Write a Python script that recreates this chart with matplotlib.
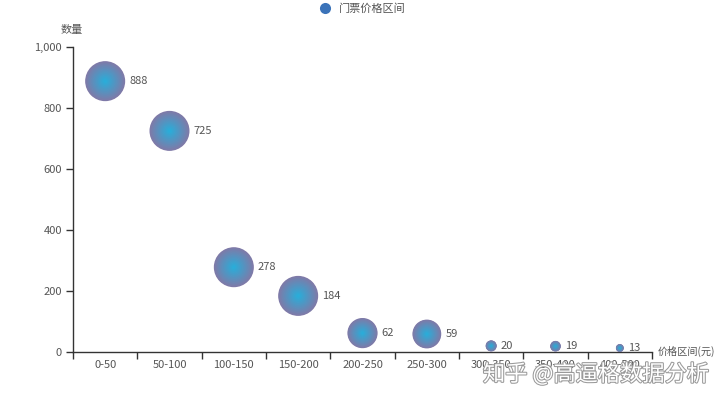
import numpy as np
import matplotlib.pyplot as plt
import matplotlib.patheffects as pe
from matplotlib.lines import Line2D
from matplotlib.ticker import FuncFormatter, FixedLocator

plt.rcParams['font.family'] = ['Noto Sans CJK SC', 'DejaVu Sans']

# data
price_ranges = ['0-50', '50-100', '100-150', '150-200', '200-250',
                '250-300', '300-350', '350-400', '400-500']
counts = [888, 725, 278, 184, 62, 59, 20, 19, 13]
series_name = '门票价格区间'

# colours of the radial gradient
edge_col = np.array([0x80, 0x7a, 0xa8]) / 255
center_col = np.array([0x26, 0xb0, 0xdc]) / 255

fig = plt.figure(figsize=(7.2, 4), dpi=100)
ax = fig.add_axes([73 / 720, 1 - 352 / 400, (652 - 73) / 720, (352 - 47) / 400])

x = np.arange(len(price_ranges))
# bubble diameter in pixels, capped like the original
diam = np.minimum(40, np.array(counts) / 2.2 + 2)

# draw each bubble as stacked circles to fake a radial gradient
steps = 30
for k in range(steps):
    f = 1 - k / steps
    t = k / steps
    col = edge_col * (1 - t) + center_col * t
    ax.scatter(x, counts, s=(diam * f * 0.72) ** 2, color=col, linewidths=0, zorder=3 + k * 0.01)

# value labels to the right of the bubbles
for xi, v, d in zip(x, counts, diam):
    ax.annotate(str(v), (xi, v), xytext=(d * 0.72 / 2 + 3, 0), textcoords='offset points',
                ha='left', va='center', fontsize=8, color='#555555', zorder=5)

ax.set_xlim(-0.5, len(price_ranges) - 0.5)
ax.set_ylim(0, 1000)
ax.set_yticks([0, 200, 400, 600, 800, 1000])
ax.yaxis.set_major_formatter(FuncFormatter(lambda v, p: f'{v:,.0f}'))

# ticks on category boundaries, labels centred
ax.xaxis.set_major_locator(FixedLocator(np.arange(-0.5, len(price_ranges), 1.0)))
ax.set_xticklabels([])
ax.set_xticks(x, minor=True)
ax.set_xticklabels(price_ranges, minor=True)
ax.tick_params(axis='x', which='minor', length=0, pad=6, labelsize=8, labelcolor='#555555')
ax.tick_params(axis='x', which='major', length=5, color='#333333', width=1)
ax.tick_params(axis='y', length=5, color='#333333', width=1, labelsize=8, labelcolor='#555555', pad=3)

for side in ['top', 'right']:
    ax.spines[side].set_visible(False)
for side in ['left', 'bottom']:
    ax.spines[side].set_color('#333333')
    ax.spines[side].set_linewidth(1)

# axis names
fig.text(72 / 720, 1 - 30 / 400, '数量', ha='center', va='center', fontsize=8, color='#555555')
fig.text(658 / 720, 1 - 351 / 400, '价格区间(元)', ha='left', va='center', fontsize=7.3, color='#555555')

# legend
handle = Line2D([], [], marker='o', linestyle='none', markersize=8,
                markerfacecolor='#3b73b9', markeredgewidth=0)
fig.legend([handle], [series_name], loc='center', bbox_to_anchor=(360 / 720, 1 - 9 / 400),
           frameon=False, fontsize=8, labelcolor='#555555', handletextpad=0.3)

# watermark
fig.text(483 / 720, 1 - 374 / 400, '知乎 @高逼格数据分析', ha='left', va='center',
         fontsize=16, color='white', zorder=10,
         path_effects=[pe.withStroke(linewidth=1.5, foreground='#9a9a9a')])

fig.savefig('out.png', dpi=100)
